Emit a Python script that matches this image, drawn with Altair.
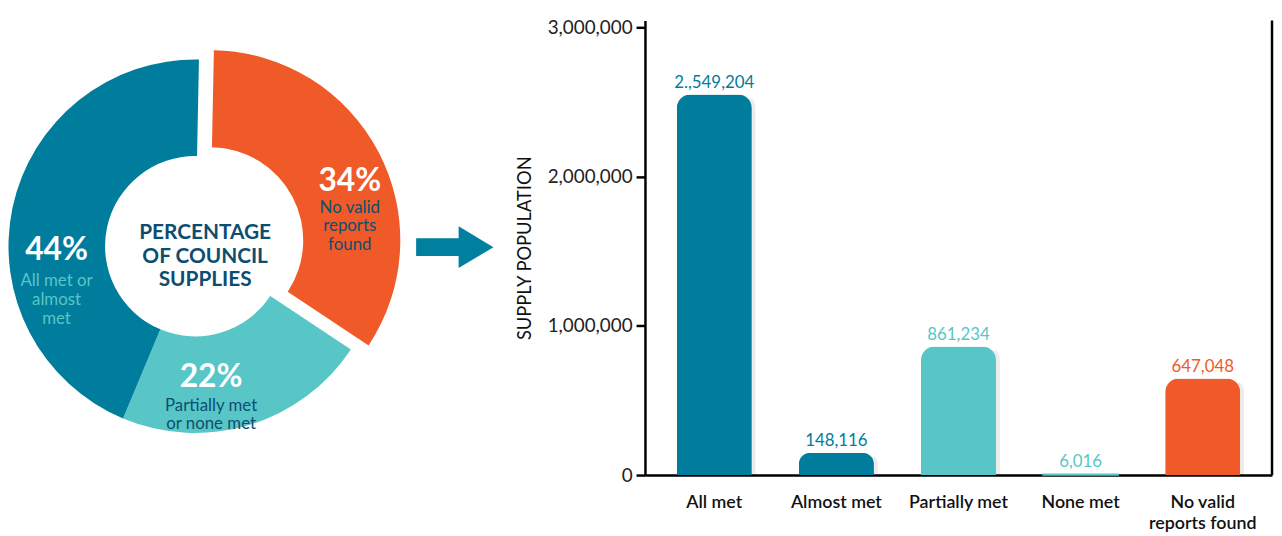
import altair as alt
import pandas as pd

# ---- bar chart data ----
cats = ["All met", "Almost met", "Partially met", "None met", "No valid reports found"]
values = [2549204, 148116, 861234, 6016, 647048]
value_labels = ["2.,549,204", "148,116", "861,234", "6,016", "647,048"]
bar_colors = ["#007c9c", "#007c9c", "#58c6c6", "#58c6c6", "#f05a28"]
y_ticks = [0, 1000000, 2000000, 3000000]

# ---- donut data ----
pie_cats = ["No valid reports found", "Partially met or none met", "All met or almost met"]
pie_vals = [34, 22, 44]
pie_desc = ["No valid\nreports\nfound", "Partially met\nor none met", "All met or\nalmost\nmet"]
pie_colors = ["#f05a28", "#58c6c6", "#007c9c"]
desc_colors = ["#0d4e70", "#0d4e70", "#58c6c6"]
center_title = "PERCENTAGE\nOF COUNCIL\nSUPPLIES"

FONT = "Lato"
NAVY = "#0d4e70"

bars_df = pd.DataFrame({"cat": cats, "value": values, "label": value_labels})
pie_df = pd.DataFrame({"cat": pie_cats, "value": pie_vals, "desc": pie_desc, "dcol": desc_colors})

# ---------------- donut view ----------------
W1, H = 495, 459
CX, CY = 189, 228
EX, EY = 15, -6  # explode offset of the orange slice

pie_base = alt.Chart(pie_df).transform_window(
    end="sum(value)", frame=[None, 0]
).transform_calculate(start="datum.end - datum.value", pct="datum.value + '%'")

theta_scale = alt.Scale(domain=[0, 100], range=[0.02, 6.3032])
color_pie = alt.Color("cat:N", scale=alt.Scale(domain=pie_cats, range=pie_colors), legend=None)

arcs_main = pie_base.transform_filter(alt.datum.cat != pie_cats[0]).mark_arc(
    innerRadius=91, outerRadius=188.5, stroke=None
).encode(
    theta=alt.Theta("start:Q", scale=theta_scale, stack=None),
    theta2="end:Q",
    color=color_pie,
    x=alt.value(CX), y=alt.value(CY),
)
arcs_expl = pie_base.transform_filter(alt.datum.cat == pie_cats[0]).mark_arc(
    innerRadius=94, outerRadius=192, stroke=None
).encode(
    theta=alt.Theta("start:Q", scale=theta_scale, stack=None),
    theta2="end:Q",
    color=color_pie,
    x=alt.value(CX + EX), y=alt.value(CY + EY),
)

# annotation anchors per slice (pct centre, first description line centre)
anchors = {
    pie_cats[0]: ((345, 162), (345, 189)),
    pie_cats[1]: ((205, 360), (205, 389)),
    pie_cats[2]: ((49, 232), (49, 263)),
}
pie_text_layers = []
for c, ((px, py), (dx_, dy_)) in anchors.items():
    sub = pie_base.transform_filter(alt.datum.cat == c)
    pie_text_layers.append(
        sub.mark_text(font=FONT, fontSize=32, fontWeight="bold", color="white",
                      align="center", baseline="middle").encode(
            text="pct:N", x=alt.value(px), y=alt.value(py))
    )
    pie_text_layers.append(
        sub.mark_text(font=FONT, fontSize=17, align="center", baseline="middle",
                      lineBreak="\n", lineHeight=19).encode(
            text="desc:N", color=alt.Color("dcol:N", scale=None),
            x=alt.value(dx_), y=alt.value(dy_))
    )

center_txt = alt.Chart(pd.DataFrame({"t": [center_title]})).mark_text(
    font=FONT, fontSize=21, fontWeight="bold", color=NAVY, align="center",
    baseline="middle", lineBreak="\n", lineHeight=23.5
).encode(text="t:N", x=alt.value(199), y=alt.value(215))

arrow_path = "M -1 -0.23 L 0.1 -0.23 L 0.1 -0.54 L 1 0 L 0.1 0.54 L 0.1 0.23 L -1 0.23 Z"
arrow = alt.Chart(pd.DataFrame({"a": [1]})).mark_point(
    shape=arrow_path, size=6084, filled=True, fill="#007f9f", opacity=1, strokeWidth=0
).encode(x=alt.value(451), y=alt.value(229))

donut = alt.layer(arcs_main, arcs_expl, *pie_text_layers, center_txt, arrow).properties(
    width=W1, height=H
)

# ---------------- bar view ----------------
W2 = 633
y_scale = alt.Scale(domain=[0, 3046000], nice=False)
y_enc = alt.Y(
    "value:Q", scale=y_scale, title="SUPPLY POPULATION",
    axis=alt.Axis(values=y_ticks, format=",", labelExpr="format(datum.value, ',')",
                  grid=False, labelFont=FONT, labelFontSize=19, labelColor="#222",
                  tickColor="black", tickWidth=2.5, tickSize=9, labelPadding=4,
                  minExtent=97, maxExtent=97,
                  domainColor="black", domainWidth=2.5, titleFont=FONT, titleFontSize=18.5,
                  titleFontWeight="normal", titleColor="#111", titlePadding=15),
)
x_enc = alt.X(
    "cat:N", sort=cats, title=None,
    scale=alt.Scale(paddingInner=0.385, paddingOuter=0.26),
    axis=alt.Axis(
        labelAngle=0, ticks=False, labelFont=FONT, labelFontSize=18, labelFontWeight=600,
        labelColor="#111", labelPadding=19, domainColor="black", domainWidth=2.5,
        labelLineHeight=21,
        labelExpr="datum.value == 'No valid reports found' ? ['No valid', 'reports found'] : datum.label",
    ),
)
color_bar = alt.Color("cat:N", scale=alt.Scale(domain=cats, range=bar_colors), legend=None)

base_bars = alt.Chart(bars_df)
shadow = base_bars.transform_filter(alt.datum.value >= 50000).mark_bar(
    cornerRadiusTopLeft=14, cornerRadiusTopRight=14, color="#000000", opacity=0.07,
    xOffset=4, yOffset=4
).encode(x=x_enc, y=y_enc)
bars_tall = base_bars.transform_filter(alt.datum.value >= 50000).mark_bar(
    cornerRadiusTopLeft=14, cornerRadiusTopRight=14
).encode(x=x_enc, y=y_enc, color=color_bar)
bars_thin = base_bars.transform_filter(alt.datum.value < 50000).mark_bar(
    strokeWidth=1.5
).encode(x=x_enc, y=y_enc, color=color_bar, stroke=color_bar)
bar_labels = base_bars.mark_text(
    font=FONT, fontSize=17, baseline="middle", align="center", dy=-12
).encode(
    x=x_enc, y=y_enc, text="label:N", color=color_bar,
)
right_border = alt.Chart(pd.DataFrame({"a": [1]})).mark_rule(
    color="black", strokeWidth=2.5
).encode(x=alt.value(W2), y=alt.value(0), y2=alt.value(H))

barchart = alt.layer(shadow, bars_tall, bars_thin, bar_labels, right_border).properties(
    width=W2, height=H
)

chart = alt.hconcat(donut, barchart, spacing=17).properties(
    padding={"left": 0, "top": 7, "right": 0, "bottom": 0}
).configure_view(stroke=None).resolve_scale(color="independent")

chart.save("out.html", embed_options={"renderer": "svg", "actions": False})
